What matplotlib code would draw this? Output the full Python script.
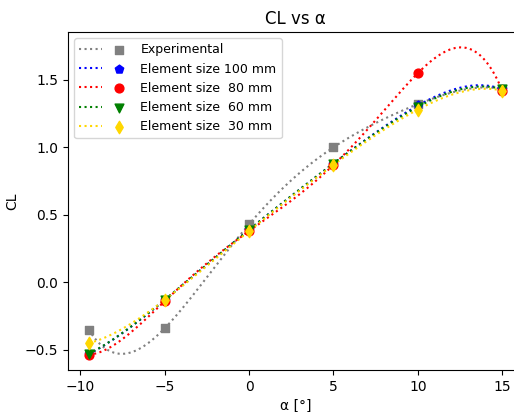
import numpy as np
import matplotlib
matplotlib.use("Agg")
import matplotlib.pyplot as plt
from matplotlib.legend_handler import HandlerTuple

# angle of attack [deg]
alpha = [-9.5, -5, 0, 5, 10, 15]

cl_exp = [-0.35, -0.34, 0.43, 1.00, 1.32, 1.43]
cl_100 = [-0.53, -0.13, 0.39, 0.88, 1.31, 1.43]
cl_80 = [-0.535, -0.14, 0.38, 0.87, 1.55, 1.42]
cl_60 = [-0.53, -0.13, 0.39, 0.88, 1.30, 1.43]
cl_30 = [-0.45, -0.13, 0.38, 0.87, 1.28, 1.42]

series = [
    (cl_exp, "gray", "s", "Experimental"),
    (cl_100, "blue", "p", "Element size 100 mm"),
    (cl_80, "red", "o", "Element size  80 mm"),
    (cl_60, "green", "v", "Element size  60 mm"),
    (cl_30, "gold", "d", "Element size  30 mm"),
]

fig = plt.figure(figsize=(5.14, 4.12), dpi=100)
ax = fig.add_axes([68 / 514, 1 - 370 / 412, (523 - 68) / 514, (370 - 32) / 412])

xs = np.linspace(min(alpha), max(alpha), 300)
handles, labels = [], []
for cl, col, mk, lab in series:
    # polynomial through all points
    p = np.polyfit(alpha, cl, len(alpha) - 1)
    ln, = ax.plot(xs, np.polyval(p, xs), ":", color=col)
    sc = ax.scatter(alpha, cl, color=col, marker=mk, s=40, zorder=3)
    handles.append((ln, sc))
    labels.append(lab)

ax.legend(handles, labels, handler_map={tuple: HandlerTuple(ndivide=None)},
          loc="upper left", fontsize=9, handlelength=4.1)
ax.set_title("CL vs α")
ax.set_xlabel("α [°]")
ax.set_ylabel("CL")

fig.savefig("out.png", dpi=100)
